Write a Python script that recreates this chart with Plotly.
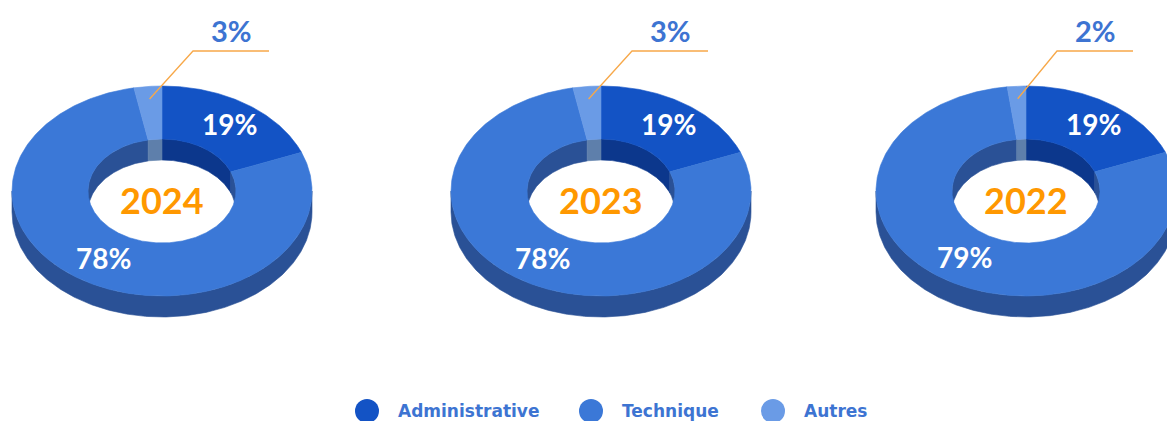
import numpy as np
import plotly.graph_objects as go

# Data
years = ["2024", "2023", "2022"]
categories = ["Administrative", "Technique", "Autres"]
administrative = [19, 19, 19]
technique = [78, 78, 79]
autres = [3, 3, 2]

# Styling
face_colors = ["#1353c5", "#3b78d7", "#6a9be6"]
side_colors = ["#0c3b94", "#2a5196", "#4f74b3"]
inner_colors = ["#0c378c", "#2a5196", "#5e7fab"]
label_blue = "#3d74d2"
year_orange = "#ff9800"
leader_orange = "#f7a849"
FONT = "Lato"
LEGEND_FONT = "DejaVu Sans"

W, H = 1167, 421
centers_x = [162, 601, 1026]
cy = 191
rx, ry = 150, 105
rxi, ryi = 74, 52
depth = 21

fig = go.Figure()


def pt(cx, r_x, r_y, theta_deg, dy=0.0):
    t = np.radians(theta_deg)
    return cx + r_x * np.sin(t), cy - r_y * np.cos(t) + dy


def arc(cx, r_x, r_y, a, b, dy=0.0, n=None):
    n = n or max(8, int(abs(b - a) * 1.5))
    th = np.linspace(a, b, n)
    x, y = pt(cx, r_x, r_y, th, dy)
    return list(x), list(y)


def poly(xs, ys, color):
    fig.add_trace(go.Scatter(
        x=xs + [xs[0]], y=ys + [ys[0]], mode="lines", fill="toself",
        fillcolor=color, line=dict(color=color, width=0.6),
        hoverinfo="skip", showlegend=False,
    ))


def overlap(a, b, lo, hi):
    s, e = max(a, lo), min(b, hi)
    return (s, e) if e > s else None


for k, year in enumerate(years):
    cx = centers_x[k]
    values = [administrative[k], technique[k], autres[k]]
    total = sum(values)
    bounds = []
    start = 0.0
    for v in values:
        end = start + 360.0 * v / total
        bounds.append((start, end))
        start = end

    # outer side wall (front half of the ring)
    for i, (a, b) in enumerate(bounds):
        seg = overlap(a, b, 90, 270)
        if seg:
            x1, y1 = arc(cx, rx, ry, seg[0], seg[1])
            x2, y2 = arc(cx, rx, ry, seg[1], seg[0], dy=depth)
            poly(x1 + x2, y1 + y2, side_colors[i])

    # inner wall seen through the hole (back half of the ring)
    for i, (a, b) in enumerate(bounds):
        for lo, hi in ((0, 90), (270, 360)):
            seg = overlap(a, b, lo, hi)
            if seg:
                x1, y1 = arc(cx, rxi, ryi, seg[0], seg[1])
                x2, y2 = arc(cx, rxi, ryi, seg[1], seg[0], dy=depth)
                poly(x1 + x2, y1 + y2, inner_colors[i])

    # top faces
    for i, (a, b) in enumerate(bounds):
        x1, y1 = arc(cx, rx, ry, a, b)
        x2, y2 = arc(cx, rxi, ryi, b, a)
        poly(x1 + x2, y1 + y2, face_colors[i])

    # value labels
    for i, (a, b) in enumerate(bounds):
        mid = (a + b) / 2
        v = values[i]
        if v >= 5:
            lx, ly = pt(cx, 0.54 * (rx + rxi), 0.5 * (ry + ryi), mid)
            fig.add_annotation(x=lx, y=ly - 2, text=f"{v}%", showarrow=False,
                               font=dict(family=FONT, size=28, color="white", weight="bold"))
        else:
            sx, sy = pt(cx, 0.88 * rx, 0.88 * ry, mid)
            fig.add_trace(go.Scatter(
                x=[sx, cx + 31, cx + 107], y=[sy, 51, 51], mode="lines",
                line=dict(color=leader_orange, width=1.3),
                hoverinfo="skip", showlegend=False,
            ))
            fig.add_annotation(x=cx + 69, y=30, text=f"{v}%", showarrow=False,
                               font=dict(family=FONT, size=29, color=label_blue, weight="bold"))

    fig.add_annotation(x=cx, y=cy + 9, text=year, showarrow=False,
                       font=dict(family=FONT, size=36, color=year_orange, weight="bold"))

# legend row
legend_x = [367, 591, 773]
legend_y = 411
fig.add_trace(go.Scatter(
    x=legend_x, y=[legend_y] * 3, mode="markers",
    marker=dict(size=24, color=face_colors, line=dict(width=0)),
    hoverinfo="skip", showlegend=False,
))
for lx, name in zip(legend_x, categories):
    fig.add_annotation(x=lx + 29, y=legend_y, text=name, showarrow=False,
                       xanchor="left",
                       font=dict(family=LEGEND_FONT, size=17, color=label_blue, weight="bold"))

fig.update_xaxes(range=[0, W], visible=False, fixedrange=True)
fig.update_yaxes(range=[H, 0], visible=False, fixedrange=True)
fig.update_layout(
    width=W, height=H, margin=dict(l=0, r=0, t=0, b=0),
    paper_bgcolor="white", plot_bgcolor="white",
)

fig.write_html("out.html")
